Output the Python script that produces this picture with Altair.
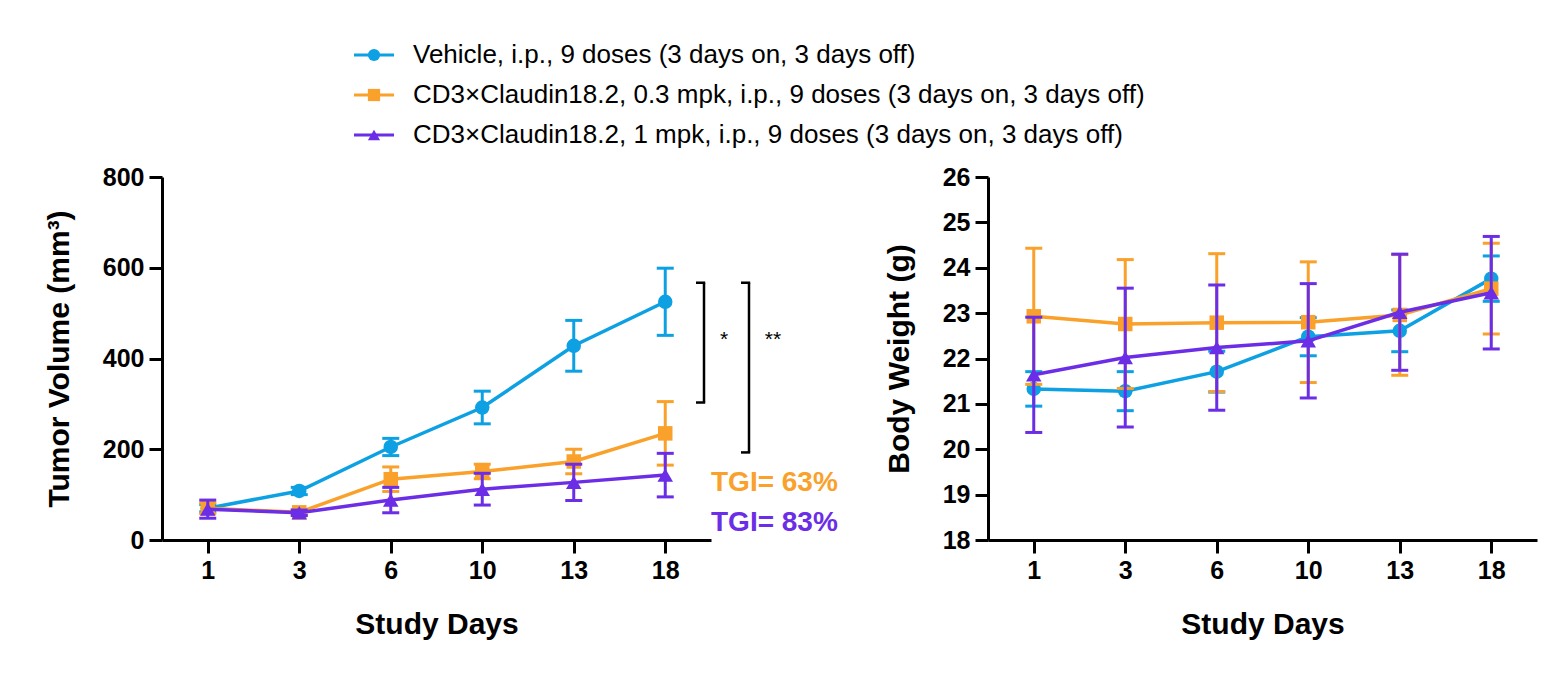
import altair as alt
import pandas as pd

days = ["1", "3", "6", "10", "13", "18"]
series = [
    "Vehicle, i.p., 9 doses (3 days on, 3 days off)",
    "CD3×Claudin18.2, 0.3 mpk, i.p., 9 doses (3 days on, 3 days off)",
    "CD3×Claudin18.2, 1 mpk, i.p., 9 doses (3 days on, 3 days off)",
]
colors = ["#0DA0E3", "#F9A12B", "#6B2DE6"]
shapes = ["circle", "square", "triangle-up"]

# Tumor volume (mm3): mean and SEM
tv_mean = [
    [70, 108, 205, 292, 428, 525],
    [70, 61, 134, 151, 173, 235],
    [68, 60, 88, 112, 127, 143],
]
tv_sem = [
    [8, 8, 19, 36, 56, 74],
    [12, 6, 27, 16, 27, 70],
    [20, 6, 28, 35, 40, 48],
]
# Body weight (g): mean and SEM
bw_mean = [
    [21.33, 21.28, 21.71, 22.48, 22.61, 23.76],
    [22.93, 22.76, 22.79, 22.80, 22.96, 23.54],
    [21.64, 22.02, 22.24, 22.39, 23.02, 23.45],
]
bw_sem = [
    [0.38, 0.43, 0.45, 0.42, 0.46, 0.50],
    [1.50, 1.42, 1.52, 1.33, 1.33, 1.00],
    [1.27, 1.53, 1.38, 1.26, 1.28, 1.24],
]

# significance brackets (y span in mm3) and labels
bracket_top = [567, 567]
bracket_bottom = [303, 193]
bracket_labels = ["*", "**"]
star_level = 440
tgi_labels = ["TGI= 63%", "TGI= 83%"]
tgi_levels = [125, 37]

FONT = "Liberation Sans"
W, H = 549, 363


def make_df(means, sems):
    rows = []
    for i, s in enumerate(series):
        for j, d in enumerate(days):
            m, e = means[i][j], sems[i][j]
            rows.append({"series": s, "day": d, "mean": m, "lo": m - e, "hi": m + e})
    return pd.DataFrame(rows)


def panel(df, ytitle, ydomain, yvals, extra=None):
    x = alt.X("day:O", sort=days, scale=alt.Scale(type="point", padding=0.5),
              axis=alt.Axis(title="Study Days", labelAngle=0, titlePadding=26))
    yscale = alt.Scale(domain=ydomain, nice=False, zero=False)
    yaxis = alt.Axis(title=ytitle, values=yvals, titlePadding=28)
    layers = []
    for i, s in enumerate(series):
        base = alt.Chart(df[df.series == s])
        layers.append(base.mark_rule(strokeWidth=3, color=colors[i]).encode(
            x=x, y=alt.Y("lo:Q", scale=yscale, axis=yaxis), y2="hi:Q"))
        layers.append(base.transform_fold(["lo", "hi"]).mark_tick(
            thickness=3, size=17, color=colors[i], opacity=1).encode(
            x=x, y=alt.Y("value:Q", scale=yscale, axis=yaxis)))
        layers.append(base.mark_line(strokeWidth=3.5, color=colors[i]).encode(
            x=x, y=alt.Y("mean:Q", scale=yscale, axis=yaxis)))
        layers.append(base.mark_point(filled=True, opacity=1, shape=shapes[i],
                                      size=210 if i < 2 else 240, color=colors[i]).encode(
            x=x, y=alt.Y("mean:Q", scale=yscale, axis=yaxis)))
    if extra:
        layers += extra
    return alt.layer(*layers).properties(width=W, height=H)


tv_df = make_df(tv_mean, tv_sem)
bw_df = make_df(bw_mean, bw_sem)

# annotations for tumor volume panel
ann = []
bx = [542, 587]
sx = [562, 611]
for k in range(2):
    d = alt.Chart(pd.DataFrame({"a": [0]}))
    ann.append(d.mark_rule(strokeWidth=2.5, color="black").encode(
        x=alt.value(bx[k]), y=alt.datum(bracket_top[k]), y2=alt.datum(bracket_bottom[k])))
    ann.append(d.mark_rule(strokeWidth=2.5, color="black").encode(
        x=alt.value(bx[k] - 8), x2=alt.value(bx[k] + 1.2), y=alt.datum(bracket_top[k])))
    ann.append(d.mark_rule(strokeWidth=2.5, color="black").encode(
        x=alt.value(bx[k] - 8), x2=alt.value(bx[k] + 1.2), y=alt.datum(bracket_bottom[k])))
    ann.append(d.mark_text(font=FONT, fontSize=21, color="black", align="center",
                           baseline="middle").encode(
        x=alt.value(sx[k]), y=alt.datum(star_level), text=alt.value(bracket_labels[k])))
    ann.append(d.mark_text(font=FONT, fontSize=28, fontWeight="bold", color=colors[k + 1],
                           align="left", baseline="middle").encode(
        x=alt.value(549), y=alt.datum(tgi_levels[k]), text=alt.value(tgi_labels[k])))

left = panel(tv_df, "Tumor Volume (mm³)", [0, 800], [0, 200, 400, 600, 800], ann)
right = panel(bw_df, "Body Weight (g)", [18, 26], list(range(18, 27)))

# legend
leg_df = pd.DataFrame({"series": series})
ly = alt.Y("series:N", sort=series, scale=alt.Scale(type="point", padding=0.5), axis=None)
cscale = alt.Scale(domain=series, range=colors)
lb = alt.Chart(leg_df)
LX = 192
leg = alt.layer(
    lb.mark_rule(strokeWidth=3).encode(
        x=alt.value(LX), x2=alt.value(LX + 40), y=ly,
        color=alt.Color("series:N", scale=cscale, legend=None)),
    lb.mark_point(filled=True, opacity=1, size=150).encode(
        x=alt.value(LX + 20), y=ly,
        color=alt.Color("series:N", scale=cscale, legend=None),
        shape=alt.Shape("series:N", scale=alt.Scale(domain=series, range=shapes), legend=None)),
    lb.mark_text(font=FONT, fontSize=26, align="left", baseline="middle", color="black").encode(
        x=alt.value(LX + 59), y=ly, text="series:N"),
).properties(width=1200, height=120)

chart = alt.vconcat(
    leg,
    alt.hconcat(left, right, spacing=46),
    spacing=10,
).properties(
    padding={"left": 36, "top": 27, "right": 5, "bottom": 5}
).configure_view(stroke=None).configure_axis(
    domainColor="black", domainWidth=3, tickColor="black", tickWidth=3, tickSize=13,
    labelFont=FONT, labelFontSize=25, labelFontWeight="bold", labelColor="black",
    labelPadding=5, titleFont=FONT, titleFontSize=30, titleFontWeight="bold",
    titleColor="black", grid=False,
)

chart.save("out.html", embed_options={"renderer": "svg", "actions": False})
